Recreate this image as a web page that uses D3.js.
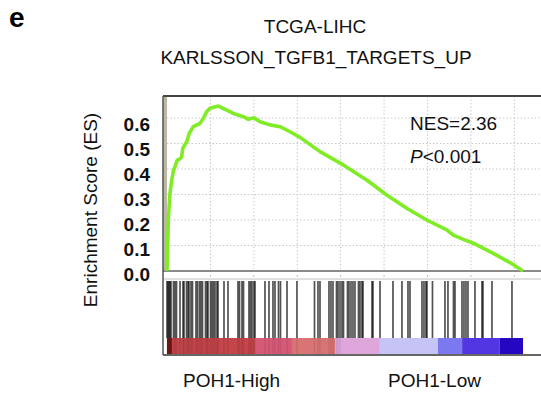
<!DOCTYPE html>
<html><head><meta charset="utf-8">
<script src="https://cdn.jsdelivr.net/npm/d3@7/dist/d3.min.js"></script>
<style>
html,body{margin:0;padding:0;background:#fff;}
svg{display:block;font-family:"Liberation Sans",Arial,sans-serif;}
</style></head>
<body><svg id="c" width="541" height="395"></svg>
<script>
// ---- data ----
const totalGenes = 20500;
const esRanks = [0,75,173,271,374,461,593,749,846,904,1134,1284,1514,1900,2090,2286,2476,2954,3438,3818,4394,4682,5010,5355,5931,6507,7083,7659,8810,10152,11500,12651,13803,14955,16106,16486,17062,17638,18789,19750,20500];
const esValues = [0,0.20,0.306,0.357,0.395,0.409,0.435,0.44,0.448,0.481,0.507,0.54,0.566,0.579,0.599,0.625,0.638,0.647,0.631,0.618,0.605,0.595,0.601,0.585,0.573,0.566,0.546,0.524,0.468,0.416,0.357,0.298,0.246,0.2,0.161,0.141,0.124,0.109,0.069,0.033,0];
const hitRanks = [0,58,115,173,230,374,461,547,749,921,979,1123,1209,1267,1382,1468,1670,1756,1871,1958,2044,2217,2303,2361,2505,2591,2677,2764,2879,2937,3282,3512,4088,4175,4319,4405,4721,4808,4894,5009,5067,5642,5873,6103,6218,6420,6535,6910,7484,8493,8695,8810,9328,9443,9558,9760,9846,9961,10077,10163,10393,10480,10595,10710,10825,11026,11113,11228,11286,11804,11861,12265,13013,13531,13877,13992,14683,14798,14913,14971,15287,16006,16179,16497,16583,16986,17101,17216,17331,17734,18137,18195,18713,19865];
const yTicks = [0,0.1,0.2,0.3,0.4,0.5,0.6];
const gridRanks = [2500,5000,7500,10000,12500,15000,17500,20000];
const bandEdges = [0,0.014,0.247,0.351,0.472,0.598,0.761,0.829,0.935,1.0];
const bandColors = ["#7d1818","#c4454a","#d65a78","#d87474","#dfa6dc","#c6c3f7","#7c78ef","#5236e2","#2507c2"];
const panelLabel = "e";
const titleLines = ["TCGA-LIHC","KARLSSON_TGFB1_TARGETS_UP"];
const yLabel = "Enrichment Score (ES)";
const nesText = "NES=2.36";
const pText = "<0.001";
const groupLabels = ["POH1-High","POH1-Low"];

// ---- layout ----
const svg = d3.select("#c");
const frameL = 163, frameT = 96, frameB = 355, frameR = 560;
const x = d3.scaleLinear().domain([0,totalGenes]).range([167,523]);
const y = d3.scaleLinear().domain([0,0.6]).range([271,118]);
const yLab = d3.scaleLinear().domain([0,0.6]).range([274,124]);
const hitTop = 280, hitBot = 338, cbTop = 338, cbBot = 355;

svg.append("rect").attr("x",frameL).attr("y",frameT).attr("width",frameR-frameL).attr("height",frameB-frameT).attr("fill","#fff");
svg.append("rect").attr("x",frameL).attr("y",frameT).attr("width",4).attr("height",271-frameT).attr("fill","#bdb8a4");

const g = svg.append("g");
g.selectAll("line.hg").data(yTicks.filter(d=>d>0)).join("line")
  .attr("x1",167).attr("x2",frameR).attr("y1",d=>y(d)).attr("y2",d=>y(d))
  .attr("stroke","#c8c8c8").attr("stroke-width",1).attr("stroke-dasharray","1.5,2");
g.selectAll("line.vg").data(gridRanks).join("line")
  .attr("x1",d=>x(d)).attr("x2",d=>x(d)).attr("y1",frameT).attr("y2",270)
  .attr("stroke","#c8c8c8").attr("stroke-width",1).attr("stroke-dasharray","1.5,2");
g.selectAll("line.st").data(gridRanks).join("line")
  .attr("x1",d=>x(d)).attr("x2",d=>x(d)).attr("y1",275).attr("y2",277)
  .attr("stroke","#bbb").attr("stroke-width",1);

svg.append("line").attr("x1",frameL).attr("x2",frameR).attr("y1",y(0)).attr("y2",y(0)).attr("stroke","#8a8a8a").attr("stroke-width",2);
svg.append("line").attr("x1",frameL).attr("x2",frameR).attr("y1",279).attr("y2",279).attr("stroke","#c0c0c0").attr("stroke-width",1.2);

svg.append("g").selectAll("line").data(hitRanks).join("line")
  .attr("x1",d=>x(d)).attr("x2",d=>x(d)).attr("y1",hitTop+1).attr("y2",hitBot)
  .attr("stroke","#000").attr("stroke-opacity",0.68).attr("stroke-width",1.7);

const bands = bandColors.map((c,i)=>({a:bandEdges[i]*totalGenes,b:bandEdges[i+1]*totalGenes,c}));
svg.append("g").selectAll("rect").data(bands).join("rect")
  .attr("x",d=>x(d.a)).attr("width",d=>x(d.b)-x(d.a)).attr("y",cbTop).attr("height",cbBot-cbTop).attr("fill",d=>d.c);
svg.append("g").selectAll("line").data(hitRanks.filter(r=>r<10000)).join("line")
  .attr("x1",d=>x(d)).attr("x2",d=>x(d)).attr("y1",cbTop).attr("y2",cbBot)
  .attr("stroke","#000").attr("stroke-opacity",0.08).attr("stroke-width",1.6);

const pts = esRanks.map((r,i)=>[r,esValues[i]]);
svg.append("path").datum(pts)
  .attr("d",d3.line().x(d=>x(d[0])).y(d=>y(d[1])))
  .attr("fill","none").attr("stroke","#80ec26").attr("stroke-width",3.6).attr("stroke-linejoin","round");

svg.append("line").attr("x1",frameL).attr("x2",frameR).attr("y1",frameT).attr("y2",frameT).attr("stroke","#444").attr("stroke-width",2);
svg.append("line").attr("x1",frameL).attr("x2",frameR).attr("y1",frameB).attr("y2",frameB).attr("stroke","#666").attr("stroke-width",2);
svg.append("line").attr("x1",frameL).attr("x2",frameL).attr("y1",frameT).attr("y2",frameB).attr("stroke","#555").attr("stroke-width",1.5);

const ax = svg.append("g").attr("transform","translate(153,0)")
  .call(d3.axisLeft(yLab).tickValues(yTicks).tickFormat(d3.format(".1f")).tickSize(0).tickPadding(3));
ax.select(".domain").remove();
ax.selectAll("text").attr("font-size",19).attr("font-weight","bold").attr("fill","#111")
  .attr("font-family","'Liberation Sans',Arial,sans-serif");

svg.append("text").attr("x",9).attr("y",27).attr("font-size",28).attr("font-weight","bold").text(panelLabel);
svg.append("text").attr("x",315).attr("y",33).attr("text-anchor","middle").attr("font-size",19).attr("fill","#111").text(titleLines[0]);
svg.append("text").attr("x",316).attr("y",64).attr("text-anchor","middle").attr("font-size",19).attr("fill","#111").text(titleLines[1]);
svg.append("text").attr("transform","translate(96.5,210) rotate(-90)").attr("text-anchor","middle").attr("font-size",19).attr("fill","#111").text(yLabel);
svg.append("text").attr("x",410).attr("y",130).attr("font-size",19).attr("fill","#111").text(nesText);
const pt = svg.append("text").attr("x",410).attr("y",163).attr("font-size",19).attr("fill","#111");
pt.append("tspan").attr("font-style","italic").text("P");
pt.append("tspan").text(pText);
svg.append("text").attr("x",183).attr("y",387).attr("font-size",19).attr("fill","#111").text(groupLabels[0]);
svg.append("text").attr("x",388).attr("y",387).attr("font-size",19).attr("fill","#111").text(groupLabels[1]);
</script></body></html>
